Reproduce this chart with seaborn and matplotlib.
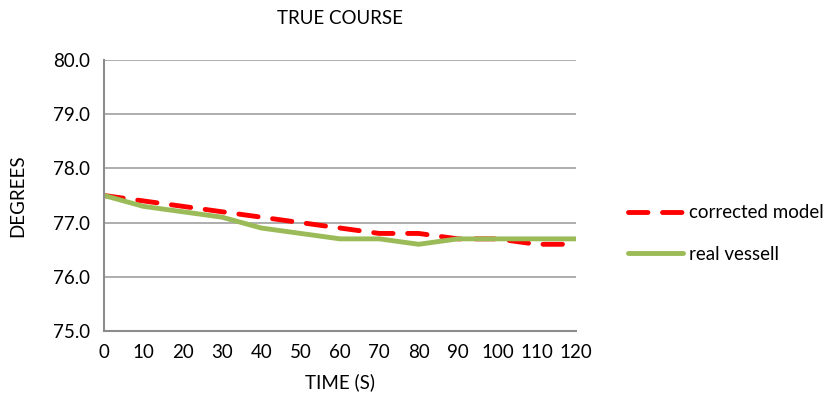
import matplotlib
matplotlib.use("Agg")
import matplotlib.pyplot as plt
import seaborn as sns
import pandas as pd

time_s = [0, 10, 20, 30, 40, 50, 60, 70, 80, 90, 100, 110, 120]
corrected_model = [77.5, 77.4, 77.3, 77.2, 77.1, 77.0, 76.9, 76.8, 76.8, 76.7, 76.7, 76.6, 76.6]
real_vessell = [77.5, 77.3, 77.2, 77.1, 76.9, 76.8, 76.7, 76.7, 76.6, 76.7, 76.7, 76.7, 76.7]
y_ticks = [75.0, 76.0, 77.0, 78.0, 79.0, 80.0]

sns.set_theme(style="white")
plt.rcParams['font.family'] = ['Lato', 'DejaVu Sans']
plt.rcParams['text.color'] = 'black'
plt.rcParams['axes.labelcolor'] = 'black'
plt.rcParams['xtick.color'] = 'black'
plt.rcParams['ytick.color'] = 'black'

fs = 13.5
fig = plt.figure(figsize=(8.31, 3.97), dpi=100)
ax = fig.add_axes([104/831, 1-331/397, (576-104)/831, (331-60)/397])

df = pd.DataFrame({"t": time_s, "corrected model": corrected_model, "real vessell": real_vessell})
sns.lineplot(data=df, x="t", y="corrected model", ax=ax, color="#ff0000", lw=3.5,
             linestyle=(0, (4.0, 3.0)), label="corrected model", dash_capstyle="round")
sns.lineplot(data=df, x="t", y="real vessell", ax=ax, color="#9bbb59", lw=3.5,
             label="real vessell", solid_joinstyle="round", solid_capstyle="round")

ax.set_xlim(0, 120)
ax.set_ylim(75, 80)
ax.set_xticks(time_s)
ax.set_yticks(y_ticks)
ax.set_yticklabels([f"{v:.1f}" for v in y_ticks], fontsize=fs)
ax.set_xticklabels([str(t) for t in time_s], fontsize=fs)
ax.tick_params(axis="x", length=0, pad=9)
ax.tick_params(axis="y", length=0, pad=10)
for y in y_ticks[1:]:
    ax.axhline(y, color="#a0a0a0", lw=1.2, zorder=0)
for s in ["top", "right"]:
    ax.spines[s].set_visible(False)
for s in ["left", "bottom"]:
    ax.spines[s].set_color("#8c8c8c")
    ax.spines[s].set_linewidth(1.5)
ax.set_xlabel("TIME (S)", fontsize=fs, labelpad=9)
ax.set_ylabel("DEGREES", fontsize=fs, labelpad=19)
ax.set_title("TRUE COURSE", fontsize=fs, pad=26)
ax.legend(loc="center left", bbox_to_anchor=(1.075, 0.36), frameon=False, fontsize=fs,
          handlelength=2.9, handletextpad=0.35, labelspacing=1.3)

fig.savefig("out.png", dpi=100)
